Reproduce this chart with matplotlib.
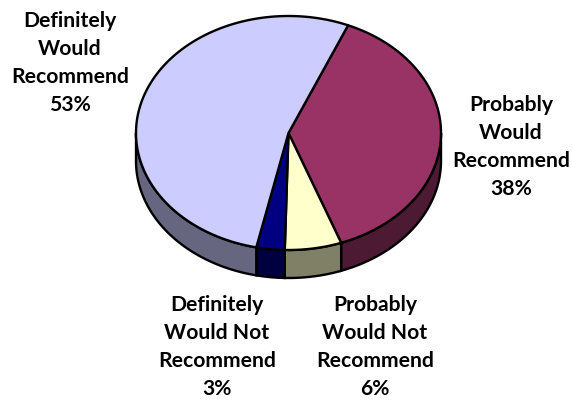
import numpy as np
import matplotlib
matplotlib.use("Agg")
import matplotlib.pyplot as plt

# valori, in ordine orario a partire dallo spicchio in alto a destra
labels = ["Probably\nWould\nRecommend\n38%", "Probably\nWould Not\nRecommend\n6%",
          "Definitely\nWould Not\nRecommend\n3%", "Definitely\nWould\nRecommend\n53%"]
values = [38, 6, 3, 53]
colors = ["#993366", "#FFFFCC", "#000080", "#CCCCFF"]
side_colors = ["#4D1A33", "#808066", "#000040", "#666680"]
label_pos = [(511, 147), (375, 347), (217, 347), (70, 63)]

cx, cy, rx, ry = 288.5, 133, 152.5, 117
depth = 28
start = 67

plt.rcParams["font.family"] = ["Lato", "DejaVu Sans"]
fig = plt.figure(figsize=(5.72, 4.0), dpi=100)
ax = fig.add_axes([0, 0, 1, 1])
ax.set_xlim(0, 572)
ax.set_ylim(400, 0)
ax.axis("off")

edges = start - np.cumsum([0] + values) * 3.6


def ell(t):
    t = np.radians(t)
    return cx + rx * np.cos(t), cy - ry * np.sin(t)


# parete laterale, solo la parte della metà inferiore
for i in range(len(values)):
    a, b = edges[i], edges[i + 1]
    lo, hi = max(b, -180), min(a, 0)
    if hi <= lo:
        continue
    t = np.linspace(hi, lo, 80)
    x, y = ell(t)
    ax.fill(np.r_[x, x[::-1]], np.r_[y, y[::-1] + depth], fc=side_colors[i],
            ec="black", lw=1.7, zorder=1)

# faccia superiore
for i in range(len(values)):
    t = np.linspace(edges[i], edges[i + 1], 200)
    x, y = ell(t)
    ax.fill(np.r_[cx, x], np.r_[cy, y], fc=colors[i], ec="black", lw=1.7, zorder=2,
            joinstyle="round")

for lab, (x, y) in zip(labels, label_pos):
    ax.text(x, y, lab, ha="center", va="center", fontsize=15.2, fontweight="bold",
            linespacing=1.52, color="black")

fig.savefig("out.png", dpi=100)
